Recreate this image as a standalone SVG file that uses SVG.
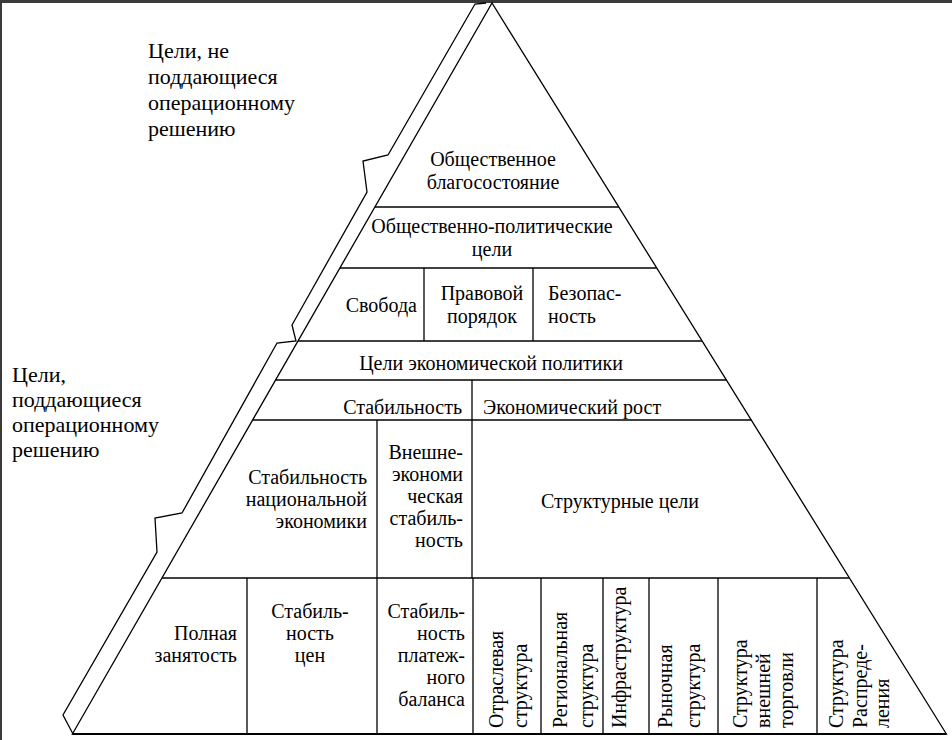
<svg xmlns="http://www.w3.org/2000/svg" width="952" height="740" viewBox="0 0 952 740">
<style>
.t{font-family:"Liberation Serif","Times New Roman",serif;font-size:20px;fill:#000}
.lab{font-size:22px}
.m{text-anchor:middle}
.e{text-anchor:end}
.ln{stroke:#000;stroke-width:1.3;fill:none;stroke-linejoin:miter}
</style>
<rect x="0" y="0" width="952" height="740" fill="#fff"/>
<rect x="0" y="0" width="952" height="3" fill="#3a3a3a"/>
<rect x="0" y="0" width="2" height="740" fill="#3a3a3a"/>

<g id="pyramid" class="ln">
<path d="M72.4,734 L492,3 L946.4,734 Z"/>
<path d="M486,3 L475,4 L388,155 L363,161 L367,192 L292,325 L296,341 L277,343 L182,513 L155,518 L157,552 L63,715 L73,734"/>
</g>

<g id="connectors" class="ln">
<line x1="374.9" y1="207" x2="618.8" y2="207"/>
<line x1="339.9" y1="268" x2="656.7" y2="268"/>
<line x1="298" y1="341" x2="702" y2="341"/>
<line x1="275.6" y1="380" x2="726.3" y2="380"/>
<line x1="252.6" y1="420" x2="751.2" y2="420"/>
<line x1="162" y1="578" x2="849.4" y2="578"/>
<line x1="72.4" y1="734" x2="946.4" y2="734" stroke-width="2"/>
<line x1="424" y1="268" x2="424" y2="341"/>
<line x1="533" y1="268" x2="533" y2="341"/>
<line x1="472" y1="380" x2="472" y2="578"/>
<line x1="377" y1="420" x2="377" y2="734"/>
<line x1="247" y1="578" x2="247" y2="734"/>
<line x1="473" y1="578" x2="473" y2="734"/>
<line x1="541" y1="578" x2="541" y2="734"/>
<line x1="603" y1="578" x2="603" y2="734"/>
<line x1="649" y1="578" x2="649" y2="734"/>
<line x1="718" y1="578" x2="718" y2="734"/>
<line x1="817" y1="578" x2="817" y2="734"/>
</g>

<g id="label-top" class="t lab">
<text x="148" y="58">Цели, не</text>
<text x="148" y="84">поддающиеся</text>
<text x="148" y="110">операционному</text>
<text x="148" y="136">решению</text>
</g>
<g id="label-bottom" class="t lab">
<text x="12" y="382">Цели,</text>
<text x="12" y="407">поддающиеся</text>
<text x="12" y="432">операционному</text>
<text x="12" y="457">решению</text>
</g>

<g id="n-welfare" class="t m">
<text x="493" y="166">Общественное</text>
<text x="493" y="189">благосостояние</text>
</g>
<g id="n-sociopolitical" class="t m">
<text x="492" y="233">Общественно-политические</text>
<text x="492" y="256">цели</text>
</g>
<g id="n-freedom" class="t e">
<text x="417" y="312">Свобода</text>
</g>
<g id="n-law" class="t m">
<text x="482" y="300">Правовой</text>
<text x="482" y="323">порядок</text>
</g>
<g id="n-security" class="t">
<text x="548" y="300">Безопас-</text>
<text x="548" y="323">ность</text>
</g>
<g id="n-econ-policy" class="t m">
<text x="491" y="370">Цели экономической политики</text>
</g>
<g id="n-stability" class="t e">
<text x="462" y="414">Стабильность</text>
</g>
<g id="n-growth" class="t">
<text x="483" y="414">Экономический рост</text>
</g>
<g id="n-national" class="t e">
<text x="367" y="484">Стабильность</text>
<text x="367" y="506">национальной</text>
<text x="367" y="528">экономики</text>
</g>
<g id="n-external" class="t e">
<text x="463" y="459">Внешне-</text>
<text x="463" y="481">экономи</text>
<text x="463" y="503">ческая</text>
<text x="463" y="525">стабиль-</text>
<text x="463" y="547">ность</text>
</g>
<g id="n-structural" class="t m">
<text x="620" y="508">Структурные цели</text>
</g>
<g id="n-employment" class="t e">
<text x="237" y="640">Полная</text>
<text x="237" y="662">занятость</text>
</g>
<g id="n-prices" class="t m">
<text x="310" y="618">Стабиль-</text>
<text x="310" y="640">ность</text>
<text x="310" y="662">цен</text>
</g>
<g id="n-balance" class="t e">
<text x="465" y="618">Стабиль-</text>
<text x="465" y="640">ность</text>
<text x="465" y="662">платеж-</text>
<text x="465" y="684">ного</text>
<text x="465" y="706">баланса</text>
</g>
<g id="n-sector" class="t">
<text transform="translate(503,728) rotate(-90)">Отраслевая</text>
<text transform="translate(527,728) rotate(-90)">структура</text>
</g>
<g id="n-regional" class="t">
<text transform="translate(567,728) rotate(-90)">Региональная</text>
<text transform="translate(593,728) rotate(-90)">структура</text>
</g>
<g id="n-infra" class="t">
<text transform="translate(626,728) rotate(-90)">Инфраструктура</text>
</g>
<g id="n-market" class="t">
<text transform="translate(672,728) rotate(-90)">Рыночная</text>
<text transform="translate(700,728) rotate(-90)">структура</text>
</g>
<g id="n-trade" class="t">
<text transform="translate(747,728) rotate(-90)">Структура</text>
<text transform="translate(770,728) rotate(-90)">внешней</text>
<text transform="translate(793,728) rotate(-90)">торговли</text>
</g>
<g id="n-distribution" class="t">
<text transform="translate(843,728) rotate(-90)">Структура</text>
<text transform="translate(867,728) rotate(-90)">Распреде-</text>
<text transform="translate(889,728) rotate(-90)">ления</text>
</g>
</svg>
